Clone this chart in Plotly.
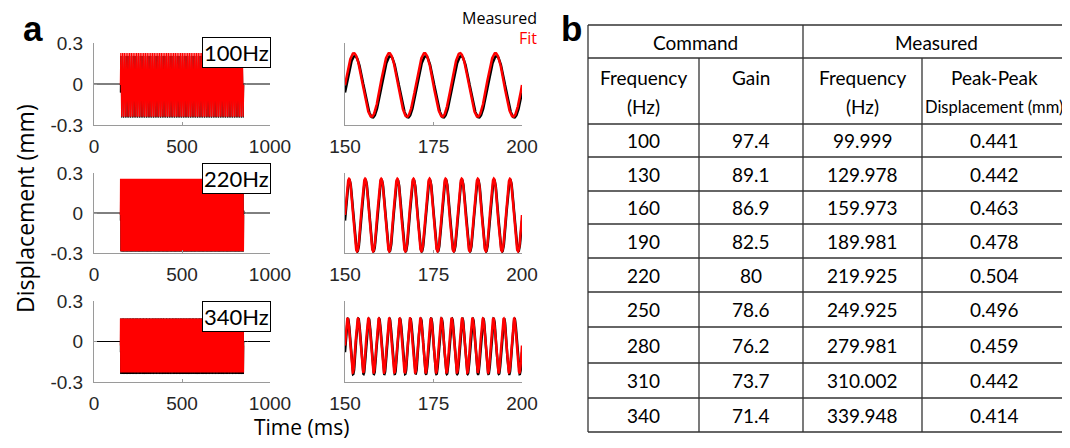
import numpy as np
import plotly.graph_objects as go

# ---------------- data ----------------
stim_freq_hz = [100, 220, 340]
stim_labels = ["100Hz", "220Hz", "340Hz"]
stim_on_ms = 150
stim_off_ms = 850
fit_amp_mm = [0.233, 0.272, 0.200]
fit_offset_mm = [-0.007, -0.015, -0.030]
meas_amp_mm = [0.225, 0.268, 0.205]
meas_offset_mm = [-0.020, -0.020, -0.036]
meas_lag_ms = [0.30, 0.10, 0.10]
ring_amp_mm = [0.015, 0.035, 0.02]
ring_tau_ms = [1.5, 1.5, 1.5]

left_ticks = [0, 500, 1000]
right_ticks = [150, 175, 200]
y_ticks = [-0.3, 0, 0.3]
y_ticklabels = ["-0.3", "0", "0.3"]

table_cmd_freq = ["100", "130", "160", "190", "220", "250", "280", "310", "340"]
table_gain = ["97.4", "89.1", "86.9", "82.5", "80", "78.6", "76.2", "73.7", "71.4"]
table_meas_freq = ["99.999", "129.978", "159.973", "189.981", "219.925",
                   "249.925", "279.981", "310.002", "339.948"]
table_pp_disp = ["0.441", "0.442", "0.463", "0.478", "0.504",
                 "0.496", "0.459", "0.442", "0.414"]

# ---------------- figure ----------------
# the page body has an 8px margin; the figure is sized to fit inside it and
# all target pixel positions are shifted by that offset
OFF = 8
W, H = 1070 - 2 * OFF, 448 - 2 * OFF
fig = go.Figure()

def px(x):
    return (x - OFF) / W

def py(y):
    return 1 - (y - OFF) / H

left_dom = [px(94), px(270)]
right_dom = [px(345), px(522)]
row_dom = [(43, 125), (173, 253), (301, 382)]

t = np.arange(0, 1000.0001, 0.05)
tick_font = dict(family="Liberation Sans, Arial", size=19, color="#262626")
axcol = "#9a9a9a"

for i in range(3):
    f = stim_freq_hz[i] / 1000.0  # cycles per ms
    on = (t >= stim_on_ms) & (t <= stim_off_ms)
    meas = np.where(on, meas_offset_mm[i] + meas_amp_mm[i] *
                    np.sin(2 * np.pi * f * (t - stim_on_ms - meas_lag_ms[i])), 0.0)
    after = t > stim_off_ms
    meas = np.where(after, ring_amp_mm[i] * np.exp(-(t - stim_off_ms) / ring_tau_ms[i]) *
                    np.sin(2 * np.pi * f * (t - stim_on_ms)), meas)
    tf = t[on]
    fit = fit_offset_mm[i] + fit_amp_mm[i] * np.sin(2 * np.pi * f * (tf - stim_on_ms))

    xl = f"x{2*i+1}" if i > 0 else "x"
    yl = f"y{2*i+1}" if i > 0 else "y"
    xr = f"x{2*i+2}"
    yr = f"y{2*i+2}"

    fig.add_trace(go.Scatter(x=t, y=meas, mode="lines", line=dict(color="black", width=1),
                             xaxis=xl, yaxis=yl, showlegend=False, hoverinfo="skip"))
    fig.add_trace(go.Scatter(x=tf, y=fit, mode="lines", line=dict(color="red", width=1.3),
                             xaxis=xl, yaxis=yl, showlegend=False, hoverinfo="skip"))
    zr = (t >= 150) & (t <= 200)
    zf = (tf >= 150) & (tf <= 200)
    fig.add_trace(go.Scatter(x=t[zr], y=meas[zr], mode="lines", line=dict(color="black", width=2.5),
                             xaxis=xr, yaxis=yr, showlegend=False, hoverinfo="skip"))
    fig.add_trace(go.Scatter(x=tf[zf], y=fit[zf], mode="lines", line=dict(color="red", width=2.5),
                             xaxis=xr, yaxis=yr, showlegend=False, hoverinfo="skip"))

    ytop, ybot = row_dom[i]
    ydom = [py(ybot), py(ytop)]
    common_x = dict(showline=True, linecolor=axcol, linewidth=1, ticks="inside", ticklen=3,
                    tickcolor=axcol, showgrid=False, zeroline=False, tickfont=tick_font,
                    ticklabelstandoff=4, automargin=False)
    lk = "xaxis" if i == 0 else f"xaxis{2*i+1}"
    lyk = "yaxis" if i == 0 else f"yaxis{2*i+1}"
    rk = f"xaxis{2*i+2}"
    ryk = f"yaxis{2*i+2}"
    fig.layout[lk] = dict(domain=left_dom, range=[0, 1000], tickvals=left_ticks,
                          anchor=yl, **common_x)
    fig.layout[lyk] = dict(domain=ydom, range=[-0.3, 0.3], tickvals=y_ticks,
                           ticktext=y_ticklabels, anchor=xl, showline=True, linecolor=axcol,
                           ticks="inside", ticklen=3, tickcolor=axcol, showgrid=False,
                           zeroline=False, tickfont=tick_font, ticklabelstandoff=6,
                           automargin=False)
    fig.layout[rk] = dict(domain=right_dom, range=[150, 200], tickvals=right_ticks,
                          anchor=yr, **common_x)
    fig.layout[ryk] = dict(domain=ydom, range=[-0.3, 0.3], anchor=xr, showline=True,
                           linecolor=axcol, showticklabels=False, ticks="",
                           showgrid=False, zeroline=False, automargin=False)

annotations = []
shapes = []

# frequency label boxes
box_centers = [53, 179, 316]
for i in range(3):
    annotations.append(dict(xref="paper", yref="paper", x=px(271), y=py(box_centers[i]),
                            xanchor="right", yanchor="middle", text=stim_labels[i],
                            showarrow=False, bgcolor="white", bordercolor="black",
                            borderwidth=1, borderpad=1,
                            font=dict(family="Lato", size=22, color="black")))

# legend text
annotations.append(dict(xref="paper", yref="paper", x=px(538), y=py(18), xanchor="right",
                        yanchor="middle", text="Measured", showarrow=False, borderpad=0,
                        font=dict(family="Open Sans", size=16, color="black")))
annotations.append(dict(xref="paper", yref="paper", x=px(538), y=py(38), xanchor="right",
                        yanchor="middle", text="Fit", showarrow=False, borderpad=0,
                        font=dict(family="Open Sans", size=16, color="red")))

# axis titles
annotations.append(dict(xref="paper", yref="paper", x=px(25), y=py(209), xanchor="center",
                        yanchor="middle", text="Displacement (mm)", textangle=-90,
                        showarrow=False, font=dict(family="Open Sans", size=23, color="black")))
annotations.append(dict(xref="paper", yref="paper", x=px(301), y=py(427), xanchor="center",
                        yanchor="middle", text="Time (ms)", showarrow=False, borderpad=0,
                        font=dict(family="Open Sans", size=21, color="black")))

# panel letters
annotations.append(dict(xref="paper", yref="paper", x=px(33), y=py(8), xanchor="center",
                        yanchor="top", text="<b>a</b>", showarrow=False, borderpad=0,
                        font=dict(family="Liberation Sans, Arial", size=35, color="black")))
annotations.append(dict(xref="paper", yref="paper", x=px(571), y=py(8), xanchor="center",
                        yanchor="top", text="<b>b</b>", showarrow=False, borderpad=0,
                        font=dict(family="Liberation Sans, Arial", size=35, color="black")))

# ---------------- table ----------------
tfont = dict(family="Lato", size=19, color="black")
tl, tr = 588, 1062
col_x = [588, 699, 803, 922, 1070]
row_lines = [25, 58, 124, 157, 191, 224, 258, 292, 327, 363, 398, 432]
lc = "#333333"
for y in row_lines:
    shapes.append(dict(type="line", xref="paper", yref="paper", x0=px(tl), x1=px(tr),
                       y0=py(y), y1=py(y), line=dict(color=lc, width=1.3)))
for x in [588, 803]:
    shapes.append(dict(type="line", xref="paper", yref="paper", x0=px(x), x1=px(x),
                       y0=py(25), y1=py(row_lines[-1]), line=dict(color=lc, width=1.3)))
for x in [699, 922]:
    shapes.append(dict(type="line", xref="paper", yref="paper", x0=px(x), x1=px(x),
                       y0=py(58), y1=py(row_lines[-1]), line=dict(color=lc, width=1.3)))

def cell(text, cx, cy, size=19):
    annotations.append(dict(xref="paper", yref="paper", x=px(cx), y=py(cy), xanchor="center",
                            yanchor="middle", text=text, showarrow=False,
                            font=dict(tfont, size=size)))

cell("Command", (588 + 803) / 2, 42)
cell("Measured", 936, 42)
centers = [(col_x[k] + col_x[k + 1]) / 2 for k in range(4)]
centers[3] = 994
cell("Frequency", centers[0], 77)
cell("(Hz)", centers[0], 107)
cell("Gain", centers[1], 77)
cell("Frequency", centers[2], 77)
cell("(Hz)", centers[2], 107)
cell("Peak-Peak", centers[3], 77)
cell("Displacement (mm)", centers[3], 107, size=16.5)
columns = [table_cmd_freq, table_gain, table_meas_freq, table_pp_disp]
for r in range(len(table_cmd_freq)):
    cy = (row_lines[r + 2] + row_lines[r + 3]) / 2
    for k in range(4):
        cell(columns[k][r], centers[k], cy)

fig.update_layout(width=W, height=H, autosize=False, margin=dict(l=0, r=0, t=0, b=0),
                  plot_bgcolor="white", paper_bgcolor="white",
                  annotations=annotations, shapes=shapes, showlegend=False)

fig.write_html("out.html")
